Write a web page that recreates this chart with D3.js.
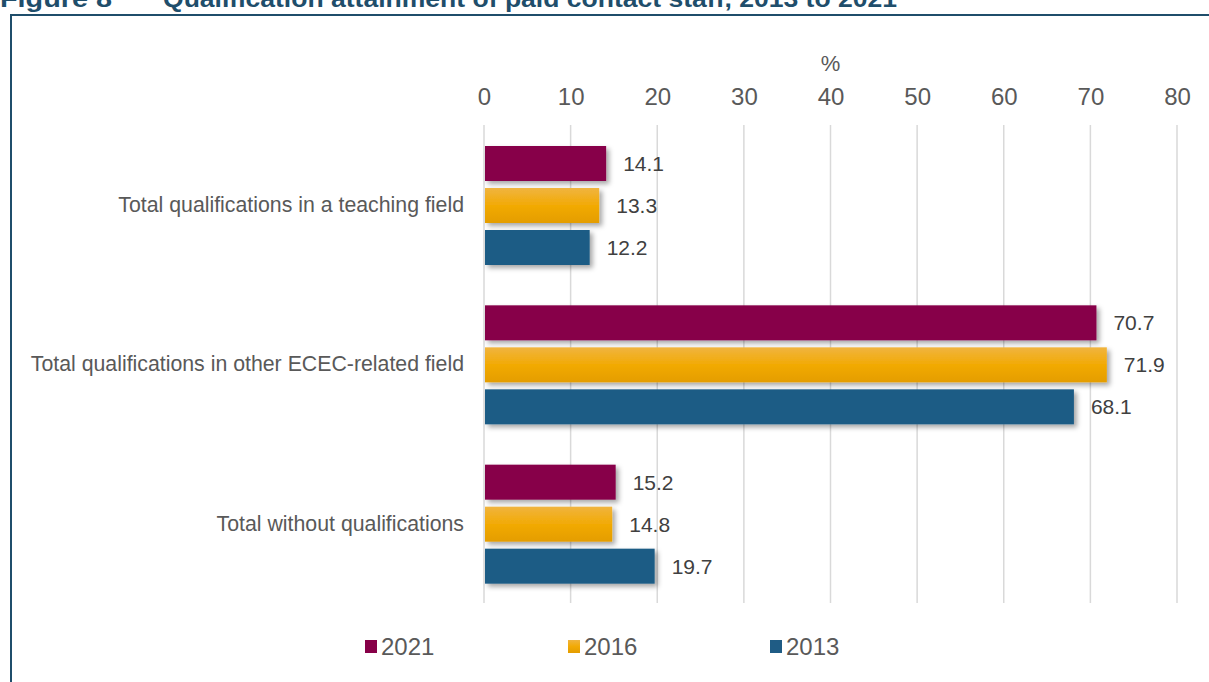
<!DOCTYPE html>
<html><head><meta charset="utf-8">
<script src="https://cdn.jsdelivr.net/npm/d3@7"></script>
<style>html,body{margin:0;padding:0;background:#fff;}svg{display:block;font-family:"Liberation Sans",Arial,sans-serif;}</style>
</head><body>
<svg id="chart" width="1209" height="682"></svg>
<script>
const categories = ["Total qualifications in a teaching field","Total qualifications in other ECEC-related field","Total without qualifications"];
const seriesNames = ["2021","2016","2013"];
const values2021 = [14.1, 70.7, 15.2];
const values2016 = [13.3, 71.9, 14.8];
const values2013 = [12.2, 68.1, 19.7];
const tickValues = [0,10,20,30,40,50,60,70,80];
const colors = ["#870048","#F2A900","#1F5C85"];

const series = [values2021, values2016, values2013];
const svg = d3.select("#chart");

const defs = svg.append("defs");
const f = defs.append("filter").attr("id","shadow").attr("x","-10%").attr("y","-30%").attr("width","130%").attr("height","180%");
f.append("feDropShadow").attr("dx",3).attr("dy",3).attr("stdDeviation",2.5).attr("flood-color","#000").attr("flood-opacity",0.35);
const grad = defs.append("linearGradient").attr("id","gold").attr("x1",0).attr("y1",0).attr("x2",0).attr("y2",1);
grad.append("stop").attr("offset","0%").attr("stop-color","#F0B43F");
grad.append("stop").attr("offset","50%").attr("stop-color","#F2AA05");
grad.append("stop").attr("offset","100%").attr("stop-color","#E49D00");
const fills = [colors[0], "url(#gold)", colors[2]];

// title (partly clipped at top, as in the source)
svg.append("text").attr("x",0).attr("y",7).attr("font-weight","bold").attr("font-size",24)
  .attr("fill","#1F4E6B").attr("textLength",112).attr("lengthAdjust","spacingAndGlyphs").text("Figure 8");
svg.append("text").attr("x",163).attr("y",7).attr("font-weight","bold").attr("font-size",24)
  .attr("fill","#1F4E6B").attr("textLength",734).attr("lengthAdjust","spacingAndGlyphs")
  .text("Qualification attainment of paid contact staff, 2013 to 2021");

// border
svg.append("rect").attr("x",11).attr("y",15).attr("width",1230).attr("height",700)
  .attr("fill","none").attr("stroke","#1F4E6B").attr("stroke-width",2);

const x = d3.scaleLinear().domain([0,80]).range([484,1177]);
const y = d3.scaleBand().domain(categories).range([125,603]).paddingInner(0).paddingOuter(0);
const yInner = d3.scaleBand().domain(seriesNames).range([21,140]).paddingInner(7/42).paddingOuter(0);

// gridlines
svg.append("g").selectAll("line").data(tickValues).join("line")
  .attr("x1",d=>x(d)).attr("x2",d=>x(d)).attr("y1",125).attr("y2",603)
  .attr("stroke","#D9D9D9").attr("stroke-width",1.5);

// top axis labels
const ax = svg.append("g").attr("transform","translate(0,97)")
  .call(d3.axisTop(x).tickValues(tickValues).tickSize(0).tickPadding(0).tickFormat(d3.format("d")));
ax.select(".domain").remove();
ax.selectAll("text").attr("font-size",24).attr("fill","#595959").attr("dy","0.35em")
  .style("font-family","'Liberation Sans',Arial,sans-serif");
svg.append("text").attr("x",x(40)).attr("y",63).attr("dy","0.35em").attr("text-anchor","middle")
  .attr("font-size",22).attr("fill","#595959").text("%");

// category labels
svg.append("g").selectAll("text").data(categories).join("text")
  .attr("x",464).attr("y",d=>y(d)+y.bandwidth()/2).attr("dy","0.35em").attr("text-anchor","end")
  .attr("font-size",21.3).attr("fill","#595959").text(d=>d);

// bars
series.forEach((vals,si)=>{
  const g = svg.append("g");
  g.selectAll("rect").data(categories).join("rect")
    .attr("x",x(0)+1).attr("y",(c)=>y(c)+yInner(seriesNames[si]))
    .attr("width",(c,i)=>x(vals[i])-x(0)-1).attr("height",yInner.bandwidth())
    .attr("fill",fills[si]).attr("filter","url(#shadow)");
  g.selectAll("text").data(categories).join("text")
    .attr("x",(c,i)=>x(vals[i])+17).attr("y",(c)=>y(c)+yInner(seriesNames[si])+yInner.bandwidth()/2)
    .attr("dy","0.35em").attr("font-size",21).attr("fill","#404040")
    .text((c,i)=>vals[i].toFixed(1));
});

// legend
const legX = [365,568,770];
seriesNames.forEach((s,i)=>{
  svg.append("rect").attr("x",legX[i]).attr("y",640).attr("width",12).attr("height",13).attr("fill",fills[i]);
  svg.append("text").attr("x",legX[i]+16).attr("y",647).attr("dy","0.35em").attr("font-size",24)
    .attr("fill","#595959").text(s);
});
</script>
</body></html>
